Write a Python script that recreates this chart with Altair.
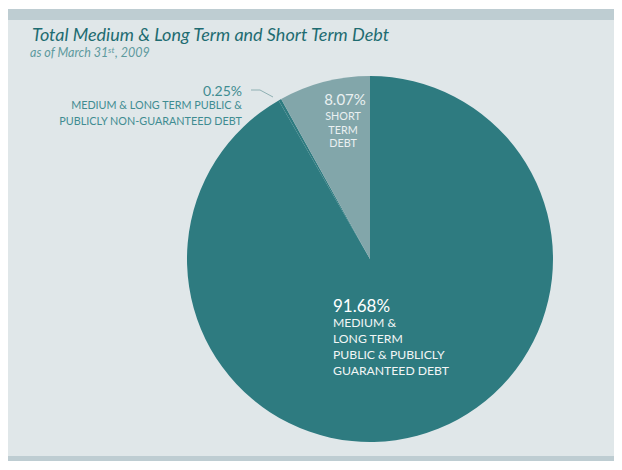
import altair as alt
import pandas as pd

# ---- data ----
categories = [
    "Medium & Long Term Public & Publicly Guaranteed Debt",
    "Medium & Long Term Public & Publicly Non-Guaranteed Debt",
    "Short Term Debt",
]
shares = [91.68, 0.25, 8.07]
order = [1, 2, 3]
pct_labels = ["91.68%", "0.25%", "8.07%"]
big_lines = ["MEDIUM &", "LONG TERM", "PUBLIC & PUBLICLY", "GUARANTEED DEBT"]
small_lines = ["MEDIUM & LONG TERM PUBLIC &", "PUBLICLY NON-GUARANTEED DEBT"]
short_lines = ["SHORT", "TERM", "DEBT"]
title_text = "Total Medium & Long Term and Short Term Debt"
subtitle_text = "as of March 31"
subtitle_sup = "st"
subtitle_end = ", 2009"

df = pd.DataFrame({"category": categories, "share": shares, "order": order})

W, H = 606, 452
FONT = "Lato"
BG = "#E0E7E9"
BAR = "#BECDD2"
DARK = "#2E7B80"
LIGHT = "#82A6AA"
TITLE_C = "#1E6C71"
LABEL_C = "#3F8C91"
SUB_C = "#5E9A9E"

cx, cy, R = 362, 250, 183

pie = alt.Chart(df).mark_arc(outerRadius=R).encode(
    theta=alt.Theta("share:Q", stack=True),
    order=alt.Order("order:O"),
    color=alt.Color(
        "category:N",
        scale=alt.Scale(domain=categories, range=[DARK, DARK, LIGHT]),
        legend=None,
    ),
    x=alt.value(cx),
    y=alt.value(cy),
)

one = alt.Chart(pd.DataFrame({"k": [0]}))

top_bar = one.mark_rect(color=BAR).encode(
    x=alt.value(0), x2=alt.value(W), y=alt.value(0), y2=alt.value(11)
)
bottom_bar = one.mark_rect(color=BAR).encode(
    x=alt.value(0), x2=alt.value(W), y=alt.value(H - 5), y2=alt.value(H)
)

title = one.mark_text(
    align="left", baseline="alphabetic", font=FONT, fontSize=18,
    fontStyle="italic", color=TITLE_C
).encode(x=alt.value(24), y=alt.value(32), text=alt.value(title_text))

subtitle = one.mark_text(
    align="left", baseline="alphabetic", font=FONT, fontSize=12.5,
    fontStyle="italic", color=SUB_C
).encode(x=alt.value(22), y=alt.value(48), text=alt.value(subtitle_text))
sub_st = one.mark_text(
    align="left", baseline="alphabetic", font=FONT, fontSize=8.5,
    fontStyle="italic", color=SUB_C
).encode(x=alt.value(100), y=alt.value(44), text=alt.value(subtitle_sup))
sub_year = one.mark_text(
    align="left", baseline="alphabetic", font=FONT, fontSize=12.5,
    fontStyle="italic", color=SUB_C
).encode(x=alt.value(107), y=alt.value(48), text=alt.value(subtitle_end))

# small slice annotation
small_pct = one.mark_text(
    align="right", baseline="alphabetic", font=FONT, fontSize=14, color=LABEL_C
).encode(x=alt.value(234), y=alt.value(87), text=alt.value(pct_labels[1]))
small_lbl = one.mark_text(
    align="right", baseline="alphabetic", font=FONT, fontSize=10.8,
    lineHeight=16, color=LABEL_C
).encode(x=alt.value(234), y=alt.value(100), text=alt.value(small_lines))
leader_df = pd.DataFrame({"px": [243, 252, 265], "py": [81, 81, 88]})
leader = alt.Chart(leader_df).mark_line(color="#8FB0B3", strokeWidth=1).encode(
    x=alt.X("px:Q", scale=alt.Scale(domain=[0, W]), axis=None),
    y=alt.Y("py:Q", scale=alt.Scale(domain=[H, 0]), axis=None),
)

# short term annotation
short_pct = one.mark_text(
    align="center", baseline="alphabetic", font=FONT, fontSize=15, color="#EAF0F1"
).encode(x=alt.value(337), y=alt.value(96), text=alt.value(pct_labels[2]))
short_lbl = one.mark_text(
    align="center", baseline="alphabetic", font=FONT, fontSize=10.8,
    lineHeight=13.5, color="#EAF0F1"
).encode(x=alt.value(335), y=alt.value(111), text=alt.value(short_lines))

# big slice annotation
big_pct = one.mark_text(
    align="left", baseline="alphabetic", font=FONT, fontSize=17, color="#FFFFFF"
).encode(x=alt.value(325), y=alt.value(303), text=alt.value(pct_labels[0]))
big_lbl = one.mark_text(
    align="left", baseline="alphabetic", font=FONT, fontSize=12.2,
    lineHeight=16, color="#F2F6F6"
).encode(x=alt.value(325), y=alt.value(318), text=alt.value(big_lines))

chart = alt.layer(
    top_bar, bottom_bar, pie, leader, title, subtitle, sub_st, sub_year,
    small_pct, small_lbl, short_pct, short_lbl, big_pct, big_lbl,
).properties(
    width=W, height=H,
    autosize=alt.AutoSizeParams(type="none"),
    padding={"left": 0, "top": 1, "right": 0, "bottom": 0},
    background="white",
).configure_view(fill=BG, stroke=None)

chart.save("out.html", embed_options={"renderer": "svg", "actions": False})
